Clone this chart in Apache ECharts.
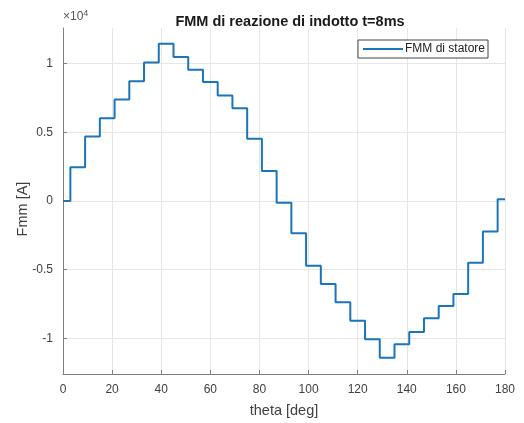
<!DOCTYPE html>
<html><head><meta charset="utf-8">
<script src="https://cdn.jsdelivr.net/npm/echarts@6/dist/echarts.min.js"></script>
<style>html,body{margin:0;padding:0;background:#fff}#c{width:524px;height:423px}</style>
</head><body><div id="c"></div>
<script>
// Step boundaries (deg) and step levels (A)
const edges = [0, 3, 9, 15, 21, 27, 33, 39, 45, 51, 57, 63, 69, 75, 81, 87, 93, 99, 105, 111, 117, 123, 129, 135, 141, 147, 153, 159, 165, 171, 177, 180];
const levels = [0, 2460, 4690, 6030, 7390, 8730, 10090, 11450, 10480, 9560, 8660, 7680, 6760, 4530, 2190, -120, -2350, -4710, -6040, -7380, -8720, -10070, -11410, -10440, -9540, -8540, -7650, -6770, -4490, -2230, 130];
const xTicks = [0, 20, 40, 60, 80, 100, 120, 140, 160, 180];
const yTicks = [-10000, -5000, 0, 5000, 10000];
const seriesName = 'FMM di statore';

const pts = [];
for (let i = 0; i < levels.length; i++) {
  pts.push([edges[i], levels[i]]);
  pts.push([edges[i + 1], levels[i]]);
}

const font = 'Liberation Sans, Arial, sans-serif';
const txt = '#404040';
const axisCol = '#808080';
const chart = echarts.init(document.getElementById('c'));
chart.setOption({
  animation: false,
  title: {
    text: 'FMM di reazione di indotto t=8ms',
    left: 285, top: 9, textAlign: 'center',
    textStyle: { fontFamily: font, fontSize: 14.5, fontWeight: 'bold', color: '#1a1a1a' }
  },
  grid: { left: 63, right: 19, top: 28, bottom: 49 },
  legend: {
    data: [seriesName], right: 36, top: 40,
    orient: 'vertical',
    itemWidth: 40, itemHeight: 2, itemGap: 4,
    icon: 'rect',
    borderColor: '#444', borderWidth: 1, padding: [3, 3, 3, 5],
    backgroundColor: '#fff',
    textStyle: { fontFamily: font, fontSize: 12, color: '#222', padding: [0, 0, 0, -3] }
  },
  xAxis: {
    type: 'value', min: 0, max: 180, interval: 20,
    name: 'theta [deg]', nameLocation: 'middle', nameGap: 29,
    nameTextStyle: { fontFamily: font, fontSize: 14.5, color: txt },
    axisLine: { onZero: false, lineStyle: { color: axisCol, width: 1 } },
    axisTick: { inside: true, length: 4, lineStyle: { color: axisCol } },
    axisLabel: { fontFamily: font, fontSize: 12, color: txt, margin: 10 },
    splitLine: { show: true, lineStyle: { color: '#e6e6e6', width: 1 } }
  },
  yAxis: {
    type: 'value', min: -12600, max: 12600,
    axisLine: { show: true, onZero: false, lineStyle: { color: axisCol, width: 1 } },
    axisLabel: {
      fontFamily: font, fontSize: 12, color: txt, margin: 10,
      customValues: yTicks,
      formatter: v => String(+(v / 10000).toFixed(2))
    },
    axisTick: { show: true, inside: true, length: 4, customValues: yTicks, lineStyle: { color: axisCol } },
    splitLine: { show: true, lineStyle: { color: '#e6e6e6', width: 1 } }
  },
  graphic: [{
    type: 'text', left: 63, top: 9,
    style: {
      text: '×10{s|4}', fontFamily: font, fontSize: 12, fill: '#555',
      rich: { s: { fontSize: 9, verticalAlign: 'top', padding: [0, 0, 7, 0], fill: '#555', fontFamily: font } }
    }
  }, {
    type: 'text', x: 23, y: 209, rotation: Math.PI / 2,
    style: {
      text: 'Fmm [A]', fontFamily: font, fontSize: 14.5, fill: txt,
      align: 'center', verticalAlign: 'middle'
    }
  }],
  series: [{
    name: seriesName, type: 'line', data: pts,
    showSymbol: false, symbol: 'none',
    lineStyle: { color: '#1a75bb', width: 2 },
    itemStyle: { color: '#1a75bb' }
  }]
});
</script></body></html>
